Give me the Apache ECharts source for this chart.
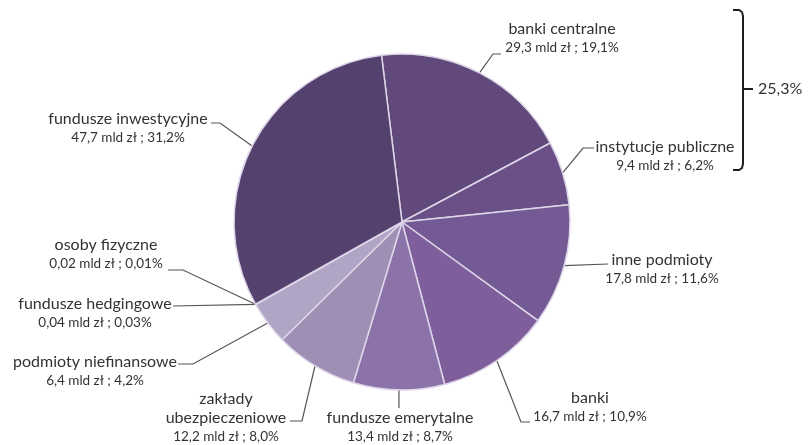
<!DOCTYPE html>
<html>
<head>
<meta charset="utf-8">
<script src="https://cdn.jsdelivr.net/npm/echarts@6/dist/echarts.min.js"></script>
<style>
  html, body { margin: 0; padding: 0; background: #fff; }
  #chart { width: 810px; height: 445px; }
</style>
</head>
<body>
<div id="chart"></div>
<script>
// Holders of the securities, clockwise from the top
const names = [
  'banki centralne', 'instytucje publiczne', 'inne podmioty', 'banki',
  'fundusze emerytalne', 'zakłady\nubezpieczeniowe', 'podmioty niefinansowe',
  'fundusze hedgingowe', 'osoby fizyczne', 'fundusze inwestycyjne'
];
// Holdings, mld zł
const amounts = [29.3, 9.4, 17.8, 16.7, 13.4, 12.2, 6.4, 0.04, 0.02, 47.7];
// Share of the total, %
const shares = [19.1, 6.2, 11.6, 10.9, 8.7, 8.0, 4.2, 0.03, 0.01, 31.2];

const colors = [
  '#614a7b', '#6a5087', '#745a94', '#7e5f9c', '#8b73aa',
  '#a08fb5', '#b1a5c6', '#b6aacb', '#b8adcc', '#54416e'
];

// Label block centres and leader-line bends (chart pixel coordinates)
const labelSpots = [
  { c: [562, 38.5], bend: [[493, 54], [501, 54]] },
  { c: [665, 156],  bend: [[583, 148], [594, 148]] },
  { c: [662, 269],  bend: [[608, 264]] },
  { c: [590, 407],  bend: [[521, 422], [530, 422]] },
  { c: [400, 427.5], bend: [['x', 408]] },
  { c: [226, 418],  bend: [[302, 421], [290, 421]] },
  { c: [95, 371],   bend: [[193, 364], [178, 364]] },
  { c: [95, 313.5], bend: [[173, 306]] },
  { c: [106, 254],  bend: [[183, 270], [168, 270]] },
  { c: [128, 128.5], bend: [[220, 123], [211, 123]] }
];

function fmt(v) {
  return v.toFixed(v < 1 ? 2 : 1).replace('.', ',');
}

const pieData = names.map((n, i) => ({
  name: n,
  value: amounts[i],
  itemStyle: { color: colors[i] }
}));

const bracketShare = fmt(shares[0] + shares[1]) + '%';

const chart = echarts.init(document.getElementById('chart'), null, { renderer: 'canvas' });

chart.setOption({
  animation: false,
  backgroundColor: '#ffffff',
  textStyle: { fontFamily: 'Lato, "Open Sans", sans-serif' },
  series: [{
    type: 'pie',
    center: [402, 222],
    radius: 168,
    startAngle: 97,
    clockwise: true,
    avoidLabelOverlap: false,
    minShowLabelAngle: 0,
    data: pieData,
    itemStyle: { borderColor: '#ddd5e8', borderWidth: 1.5 },
    label: {
      show: true,
      position: 'outside',
      align: 'center',
      color: '#333333',
      formatter: function (p) {
        const i = p.dataIndex;
        const lines = names[i].split('\n').map(t => '{n|' + t + '}');
        return lines.join('\n') + '\n{v|' + fmt(amounts[i]) + ' mld zł ; ' + fmt(shares[i]) + '%}';
      },
      rich: {
        n: { fontSize: 16, lineHeight: 19, color: '#333333', fontFamily: 'Lato', align: 'center' },
        v: { fontSize: 13.5, lineHeight: 19, color: '#333333', fontFamily: 'Lato', align: 'center' }
      }
    },
    labelLine: {
      show: true,
      lineStyle: { color: '#555555', width: 1.2 }
    },
    labelLayout: function (params) {
      const spot = labelSpots[params.dataIndex];
      const start = params.labelLinePoints ? params.labelLinePoints[0] : [0, 0];
      const pts = [[start[0], start[1]]];
      spot.bend.forEach(b => pts.push([b[0] === 'x' ? start[0] : b[0], b[1]]));
      while (pts.length < 3) pts.push(pts[pts.length - 1].slice());
      return {
        x: spot.c[0],
        y: spot.c[1],
        align: 'center',
        verticalAlign: 'middle',
        labelLinePoints: pts
      };
    }
  }],
  graphic: [
    {
      type: 'polyline',
      shape: {
        points: [[733, 10], [739, 10], [742, 12], [743, 16], [743, 164], [742, 168], [739, 170], [733, 170]]
      },
      style: { stroke: '#1e1e1e', lineWidth: 2, fill: null }
    },
    {
      type: 'line',
      shape: { x1: 743, y1: 89, x2: 753, y2: 89 },
      style: { stroke: '#1e1e1e', lineWidth: 2 }
    },
    {
      type: 'text',
      x: 758,
      y: 89,
      style: {
        text: bracketShare,
        fontSize: 16,
        fontFamily: 'Lato',
        fill: '#333333',
        verticalAlign: 'middle',
        align: 'left'
      }
    }
  ]
});
</script>
</body>
</html>
